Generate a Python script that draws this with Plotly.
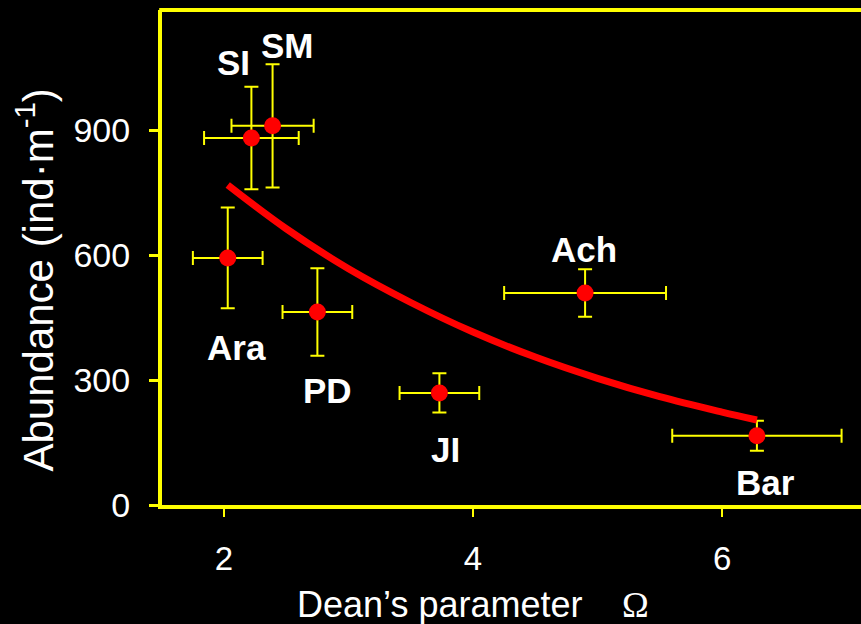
import plotly.graph_objects as go

# ---- data ----
sites = ["SI", "SM", "Ara", "PD", "JI", "Ach", "Bar"]
dean_omega = [2.22, 2.39, 2.03, 2.75, 3.73, 4.90, 6.28]
abundance = [881, 910, 593, 463, 269, 509, 166]
omega_err = [0.38, 0.33, 0.28, 0.28, 0.32, 0.65, 0.68]
abundance_err = [123, 148, 121, 105, 47, 57, 36]

# label anchor positions (data coords)
label_x = [2.08, 2.51, 2.10, 2.83, 3.78, 4.89, 6.35]
label_y = [1061, 1104, 379, 276, 134, 614, 54]

# fitted curve
curve_x = [2.03, 2.5, 3.0, 3.5, 4.0, 4.5, 5.0, 5.5, 6.0, 6.28]
curve_y = [768, 663, 567, 486, 415, 355, 304, 260, 223, 204]

x_ticks = [2, 4, 6]
y_ticks = [0, 300, 600, 900]

YELLOW = "#FFFF00"
RED = "#FF0000"
FONT = "Liberation Sans, Arial, sans-serif"
SERIF = "Liberation Serif, Times New Roman, serif"

fig = go.Figure()

fig.add_trace(go.Scatter(
    x=dean_omega, y=abundance, mode="markers",
    marker=dict(color=RED, size=17, line=dict(width=0)),
    error_x=dict(type="data", array=omega_err, color=YELLOW, thickness=2, width=7),
    error_y=dict(type="data", array=abundance_err, color=YELLOW, thickness=2, width=7),
    hoverinfo="skip", showlegend=False,
))

fig.add_trace(go.Scatter(
    x=curve_x, y=curve_y, mode="lines", line=dict(color=RED, width=7, shape="spline"),
    hoverinfo="skip", showlegend=False,
))

annotations = []
for name, lx, ly in zip(sites, label_x, label_y):
    annotations.append(dict(
        x=lx, y=ly, xref="x", yref="y", text=f"<b>{name}</b>", showarrow=False,
        font=dict(family=FONT, size=35, color="white"), xanchor="center", yanchor="middle",
    ))

annotations.append(dict(
    x=0.398, y=-0.202, xref="paper", yref="paper",
    text="Dean’s parameter",
    showarrow=False, font=dict(family=FONT, size=36, color="white"),
    xanchor="center", yanchor="middle",
))
annotations.append(dict(
    x=0.677, y=-0.202, xref="paper", yref="paper",
    text="Ω",
    showarrow=False, font=dict(family=SERIF, size=36, color="white"),
    xanchor="center", yanchor="middle",
))
annotations.append(dict(
    x=-0.182, y=0.455, xref="paper", yref="paper",
    text="Abundance (ind·m<sup>-1</sup>)", textangle=-90,
    showarrow=False, font=dict(family=FONT, size=42, color="white"),
    xanchor="center", yanchor="middle",
))

fig.update_layout(
    width=861, height=624,
    margin=dict(l=162, r=0, t=10, b=119),
    paper_bgcolor="black", plot_bgcolor="black",
    annotations=annotations,
    shapes=[dict(type="line", xref="paper", yref="paper", x0=-0.004, x1=1.0, y0=1, y1=1,
                 line=dict(color=YELLOW, width=4))],
    xaxis=dict(
        range=[1.502, 7.116], tickvals=x_ticks, ticktext=[str(v) for v in x_ticks],
        showgrid=False, zeroline=False, showline=True, linecolor=YELLOW, linewidth=4,
        mirror=False, ticks="outside", ticklen=8, tickwidth=2, tickcolor=YELLOW,
        tickfont=dict(family=FONT, size=33, color="white"), ticklabelstandoff=13,
    ),
    yaxis=dict(
        range=[0, 1188], tickvals=y_ticks, ticktext=[str(v) for v in y_ticks],
        showgrid=False, zeroline=False, showline=True, linecolor=YELLOW, linewidth=4,
        mirror=False, ticks="outside", ticklen=9, tickwidth=3, tickcolor=YELLOW,
        tickfont=dict(family=FONT, size=34, color="white"), ticklabelstandoff=12,
    ),
)

fig.write_html("out.html")
